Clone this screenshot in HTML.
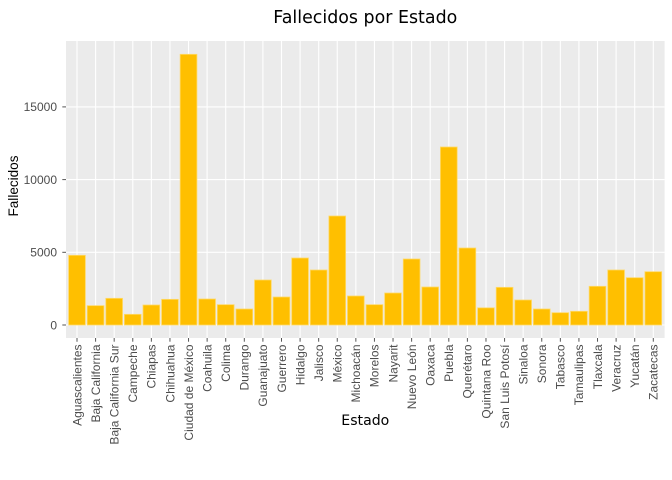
<!DOCTYPE html>
<html><head><meta charset="utf-8"><style>
html,body{margin:0;padding:0;background:#fff;}
svg{display:block;}
.tk{font-family:"Liberation Sans",sans-serif;font-size:12px;fill:#4d4d4d;}
</style></head><body>
<svg width="672" height="480" viewBox="0 0 672 480" xmlns="http://www.w3.org/2000/svg">
<rect x="0" y="0" width="672" height="480" fill="#fff"/>
<rect x="66" y="41" width="598.6" height="297" fill="#ebebeb"/>
<g stroke="#fff" stroke-width="1.1">
<line x1="66" x2="664.6" y1="325" y2="325"/>
<line x1="66" x2="664.6" y1="252.3" y2="252.3"/>
<line x1="66" x2="664.6" y1="179.6" y2="179.6"/>
<line x1="66" x2="664.6" y1="106.9" y2="106.9"/>
<line x1="77" x2="77" y1="41" y2="338"/><line x1="95.59" x2="95.59" y1="41" y2="338"/><line x1="114.18" x2="114.18" y1="41" y2="338"/><line x1="132.77" x2="132.77" y1="41" y2="338"/><line x1="151.36" x2="151.36" y1="41" y2="338"/><line x1="169.95" x2="169.95" y1="41" y2="338"/><line x1="188.54" x2="188.54" y1="41" y2="338"/><line x1="207.13" x2="207.13" y1="41" y2="338"/><line x1="225.72" x2="225.72" y1="41" y2="338"/><line x1="244.31" x2="244.31" y1="41" y2="338"/><line x1="262.9" x2="262.9" y1="41" y2="338"/><line x1="281.49" x2="281.49" y1="41" y2="338"/><line x1="300.08" x2="300.08" y1="41" y2="338"/><line x1="318.67" x2="318.67" y1="41" y2="338"/><line x1="337.26" x2="337.26" y1="41" y2="338"/><line x1="355.85" x2="355.85" y1="41" y2="338"/><line x1="374.44" x2="374.44" y1="41" y2="338"/><line x1="393.03" x2="393.03" y1="41" y2="338"/><line x1="411.62" x2="411.62" y1="41" y2="338"/><line x1="430.21" x2="430.21" y1="41" y2="338"/><line x1="448.8" x2="448.8" y1="41" y2="338"/><line x1="467.39" x2="467.39" y1="41" y2="338"/><line x1="485.98" x2="485.98" y1="41" y2="338"/><line x1="504.57" x2="504.57" y1="41" y2="338"/><line x1="523.16" x2="523.16" y1="41" y2="338"/><line x1="541.75" x2="541.75" y1="41" y2="338"/><line x1="560.34" x2="560.34" y1="41" y2="338"/><line x1="578.93" x2="578.93" y1="41" y2="338"/><line x1="597.52" x2="597.52" y1="41" y2="338"/><line x1="616.11" x2="616.11" y1="41" y2="338"/><line x1="634.7" x2="634.7" y1="41" y2="338"/><line x1="653.29" x2="653.29" y1="41" y2="338"/>
</g>
<g fill="#ffbf00" stroke="#ffd966" stroke-width="0.8">
<rect x="68.63" y="255.3" width="16.73" height="69.7"/>
<rect x="87.22" y="305.66" width="16.73" height="19.34"/>
<rect x="105.81" y="298.32" width="16.73" height="26.68"/>
<rect x="124.4" y="314.34" width="16.73" height="10.66"/>
<rect x="142.99" y="305" width="16.73" height="20"/>
<rect x="161.58" y="299.34" width="16.73" height="25.66"/>
<rect x="180.17" y="54.32" width="16.73" height="270.68"/>
<rect x="198.76" y="299" width="16.73" height="26"/>
<rect x="217.35" y="304.67" width="16.73" height="20.33"/>
<rect x="235.94" y="309" width="16.73" height="16"/>
<rect x="254.53" y="280" width="16.73" height="45"/>
<rect x="273.12" y="297" width="16.73" height="28"/>
<rect x="291.71" y="258" width="16.73" height="67"/>
<rect x="310.3" y="270" width="16.73" height="55"/>
<rect x="328.89" y="216" width="16.73" height="109"/>
<rect x="347.48" y="296" width="16.73" height="29"/>
<rect x="366.07" y="304.67" width="16.73" height="20.33"/>
<rect x="384.66" y="293" width="16.73" height="32"/>
<rect x="403.25" y="259" width="16.73" height="66"/>
<rect x="421.84" y="287" width="16.73" height="38"/>
<rect x="440.43" y="147" width="16.73" height="178"/>
<rect x="459.02" y="248" width="16.73" height="77"/>
<rect x="477.61" y="307.84" width="16.73" height="17.16"/>
<rect x="496.2" y="287.34" width="16.73" height="37.66"/>
<rect x="514.79" y="300" width="16.73" height="25"/>
<rect x="533.38" y="309" width="16.73" height="16"/>
<rect x="551.97" y="312.7" width="16.73" height="12.3"/>
<rect x="570.56" y="311.3" width="16.73" height="13.7"/>
<rect x="589.15" y="286.3" width="16.73" height="38.7"/>
<rect x="607.74" y="270" width="16.73" height="55"/>
<rect x="626.33" y="277.7" width="16.73" height="47.3"/>
<rect x="644.92" y="271.7" width="16.73" height="53.3"/>
</g>
<g stroke="#555" stroke-width="1">
<line x1="62.3" x2="66" y1="325" y2="325"/>
<line x1="62.3" x2="66" y1="252.3" y2="252.3"/>
<line x1="62.3" x2="66" y1="179.6" y2="179.6"/>
<line x1="62.3" x2="66" y1="106.9" y2="106.9"/>
</g>
<g stroke="#555" stroke-width="1">
<line x1="77" x2="77" y1="338" y2="341.7"/><line x1="95.59" x2="95.59" y1="338" y2="341.7"/><line x1="114.18" x2="114.18" y1="338" y2="341.7"/><line x1="132.77" x2="132.77" y1="338" y2="341.7"/><line x1="151.36" x2="151.36" y1="338" y2="341.7"/><line x1="169.95" x2="169.95" y1="338" y2="341.7"/><line x1="188.54" x2="188.54" y1="338" y2="341.7"/><line x1="207.13" x2="207.13" y1="338" y2="341.7"/><line x1="225.72" x2="225.72" y1="338" y2="341.7"/><line x1="244.31" x2="244.31" y1="338" y2="341.7"/><line x1="262.9" x2="262.9" y1="338" y2="341.7"/><line x1="281.49" x2="281.49" y1="338" y2="341.7"/><line x1="300.08" x2="300.08" y1="338" y2="341.7"/><line x1="318.67" x2="318.67" y1="338" y2="341.7"/><line x1="337.26" x2="337.26" y1="338" y2="341.7"/><line x1="355.85" x2="355.85" y1="338" y2="341.7"/><line x1="374.44" x2="374.44" y1="338" y2="341.7"/><line x1="393.03" x2="393.03" y1="338" y2="341.7"/><line x1="411.62" x2="411.62" y1="338" y2="341.7"/><line x1="430.21" x2="430.21" y1="338" y2="341.7"/><line x1="448.8" x2="448.8" y1="338" y2="341.7"/><line x1="467.39" x2="467.39" y1="338" y2="341.7"/><line x1="485.98" x2="485.98" y1="338" y2="341.7"/><line x1="504.57" x2="504.57" y1="338" y2="341.7"/><line x1="523.16" x2="523.16" y1="338" y2="341.7"/><line x1="541.75" x2="541.75" y1="338" y2="341.7"/><line x1="560.34" x2="560.34" y1="338" y2="341.7"/><line x1="578.93" x2="578.93" y1="338" y2="341.7"/><line x1="597.52" x2="597.52" y1="338" y2="341.7"/><line x1="616.11" x2="616.11" y1="338" y2="341.7"/><line x1="634.7" x2="634.7" y1="338" y2="341.7"/><line x1="653.29" x2="653.29" y1="338" y2="341.7"/>
</g>
<g class="tk" text-anchor="end">
<text x="57" y="329.3">0</text>
<text x="57" y="256.6">5000</text>
<text x="57" y="183.9">10000</text>
<text x="57" y="111.2">15000</text>
</g>
<g class="tk" text-anchor="end">
<text transform="translate(81.3,344.5) rotate(-90)">Aguascalientes</text>
<text transform="translate(99.89,344.5) rotate(-90)">Baja California</text>
<text transform="translate(118.48,344.5) rotate(-90)">Baja California Sur</text>
<text transform="translate(137.07,344.5) rotate(-90)">Campeche</text>
<text transform="translate(155.66,344.5) rotate(-90)">Chiapas</text>
<text transform="translate(174.25,344.5) rotate(-90)">Chihuahua</text>
<text transform="translate(192.84,344.5) rotate(-90)">Ciudad de México</text>
<text transform="translate(211.43,344.5) rotate(-90)">Coahuila</text>
<text transform="translate(230.02,344.5) rotate(-90)">Colima</text>
<text transform="translate(248.61,344.5) rotate(-90)">Durango</text>
<text transform="translate(267.2,344.5) rotate(-90)">Guanajuato</text>
<text transform="translate(285.79,344.5) rotate(-90)">Guerrero</text>
<text transform="translate(304.38,344.5) rotate(-90)">Hidalgo</text>
<text transform="translate(322.97,344.5) rotate(-90)">Jalisco</text>
<text transform="translate(341.56,344.5) rotate(-90)">México</text>
<text transform="translate(360.15,344.5) rotate(-90)">Michoacán</text>
<text transform="translate(378.74,344.5) rotate(-90)">Morelos</text>
<text transform="translate(397.33,344.5) rotate(-90)">Nayarit</text>
<text transform="translate(415.92,344.5) rotate(-90)">Nuevo León</text>
<text transform="translate(434.51,344.5) rotate(-90)">Oaxaca</text>
<text transform="translate(453.1,344.5) rotate(-90)">Puebla</text>
<text transform="translate(471.69,344.5) rotate(-90)">Querétaro</text>
<text transform="translate(490.28,344.5) rotate(-90)">Quintana Roo</text>
<text transform="translate(508.87,344.5) rotate(-90)">San Luis Potosí</text>
<text transform="translate(527.46,344.5) rotate(-90)">Sinaloa</text>
<text transform="translate(546.05,344.5) rotate(-90)">Sonora</text>
<text transform="translate(564.64,344.5) rotate(-90)">Tabasco</text>
<text transform="translate(583.23,344.5) rotate(-90)">Tamaulipas</text>
<text transform="translate(601.82,344.5) rotate(-90)">Tlaxcala</text>
<text transform="translate(620.41,344.5) rotate(-90)">Veracruz</text>
<text transform="translate(639,344.5) rotate(-90)">Yucatán</text>
<text transform="translate(657.59,344.5) rotate(-90)">Zacatecas</text>
</g>
<text x="365.3" y="23" text-anchor="middle" font-family="DejaVu Sans, sans-serif" font-size="17.5" fill="#000" textLength="184" lengthAdjust="spacingAndGlyphs">Fallecidos por Estado</text>
<text x="365.3" y="425" text-anchor="middle" font-family="DejaVu Sans, sans-serif" font-size="14.2" fill="#000" textLength="48" lengthAdjust="spacingAndGlyphs">Estado</text>
<text transform="translate(18,186) rotate(-90)" text-anchor="middle" font-family="Liberation Sans, sans-serif" font-size="14" fill="#000" textLength="61" lengthAdjust="spacingAndGlyphs">Fallecidos</text>
</svg>
</body></html>
